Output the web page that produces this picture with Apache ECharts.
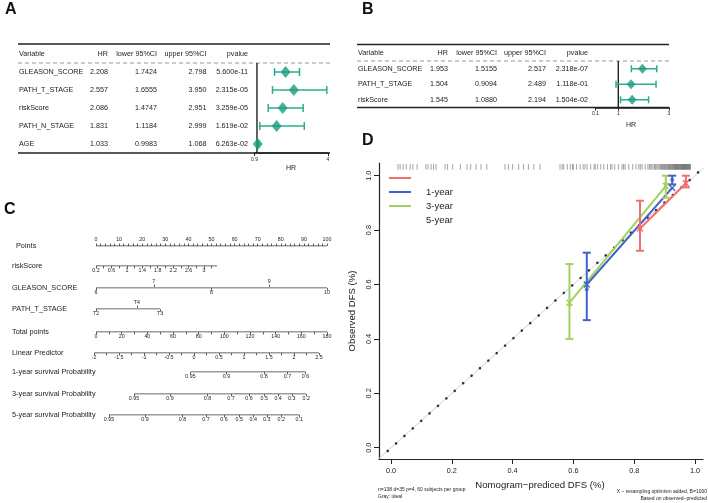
<!DOCTYPE html>
<html><head><meta charset="utf-8">
<script src="https://cdn.jsdelivr.net/npm/echarts@6/dist/echarts.min.js"></script>
<style>html,body{margin:0;padding:0;background:#fff}#c{width:708px;height:503px}</style>
</head><body><div id="c"></div>
<script>
// ================= DATA =================
// Panel A: univariate Cox
const forestAVars = ['GLEASON_SCORE','PATH_T_STAGE','riskScore','PATH_N_STAGE','AGE'];
const forestAHR = [2.208, 2.557, 2.086, 1.831, 1.033];
const forestALo = [1.7424, 1.6555, 1.4747, 1.1184, 0.9983];
const forestAHi = [2.798, 3.950, 2.951, 2.999, 1.068];
const forestAP = ['5.600e-11','2.315e-05','3.259e-05','1.619e-02','6.263e-02'];
const forestATicks = [0.9, 4];
// Panel B: multivariate Cox
const forestBVars = ['GLEASON_SCORE','PATH_T_STAGE','riskScore'];
const forestBHR = [1.953, 1.504, 1.545];
const forestBLo = [1.5155, 0.9094, 1.0880];
const forestBHi = [2.517, 2.489, 2.194];
const forestBP = ['2.318e-07','1.118e-01','1.504e-02'];
const forestBTicks = [0.1, 1, 3];
// Panel C: nomogram scales
const pointsTicks = [0,10,20,30,40,50,60,70,80,90,100];
const riskScoreTicks = [0.2,0.6,1,1.4,1.8,2.2,2.6,3];
const riskScoreMax = 3.34;
const gleasonAbove = [7, 9];
const gleasonBelow = [6, 8, 10];
const tStageLabels = ['T2','T3','T4'];
const tStagePoints = [0, 27.7, 17.7];
const totalPointsTicks = [0,20,40,60,80,100,120,140,160,180];
const lpTicks = [-2,-1.5,-1,-0.5,0,0.5,1,1.5,2,2.5];
const surv1Ticks = [0.95,0.9,0.8,0.7,0.6];
const surv3Ticks = [0.95,0.9,0.8,0.7,0.6,0.5,0.4,0.3,0.2];
const surv5Ticks = [0.95,0.9,0.8,0.7,0.6,0.5,0.4,0.3,0.2,0.1];
const baseSurv1 = 0.9465, baseSurv3 = 0.8434, baseSurv5 = 0.7552;
// Panel D: calibration
const calTicks = [0, 0.2, 0.4, 0.6, 0.8, 1.0];
const cal1Pred = [0.819, 0.970];
const cal1Obs  = [0.809, 0.978];
const cal1Lo   = [0.724, 0.957];
const cal1Hi   = [0.908, 1.000];
const cal1Corr = [0.806, 0.972];
const cal3Pred = [0.644, 0.925];
const cal3Obs  = [0.582, 0.985];
const cal3Lo   = [0.469, 0.968];
const cal3Hi   = [0.717, 1.000];
const cal3Corr = [0.600, 0.955];
const cal5Pred = [0.587, 0.904];
const cal5Obs  = [0.525, 0.970];
const cal5Lo   = [0.400, 0.919];
const cal5Hi   = [0.675, 1.000];
const cal5Corr = [0.533, 0.962];
const rugPred = [0.023,0.030,0.040,0.050,0.063,0.072,0.086,0.115,0.122,0.132,0.140,0.148,0.178,0.186,0.203,0.228,0.250,0.262,0.280,0.296,0.315,
  0.375,0.386,0.400,0.420,0.436,0.452,0.470,0.490,
  0.556,0.563,0.568,0.580,0.590,0.597,0.600,0.610,0.622,0.632,0.638,0.645,0.657,0.668,0.672,0.680,0.690,0.700,0.712,0.722,0.727,
  0.736,0.748,0.760,0.765,0.770,0.782,0.795,0.806,0.815,0.820,0.826,0.836,0.845,0.850,0.853,0.858,0.862,0.867,0.870,0.874,0.878,0.882,0.885,
  0.888,0.890,0.893,0.896,0.898,0.900,0.903,0.905,0.908,0.910,0.912,0.914,0.916,0.918,0.920,0.922,0.924,0.926,0.928,0.930,0.932,0.933,0.935,0.936,0.938,0.939,0.941,0.942,0.944,0.945,0.947,0.948,
  0.950,0.951,0.953,0.954,0.956,0.957,0.959,0.960,0.961,0.962,0.964,0.965,0.967,0.968,0.969,0.970,0.972,0.973,0.975,0.976,0.978,0.979,0.981,0.982,0.984,0.985];

// ================= BUILD =================
const FONT = '"Liberation Sans", Arial, Helvetica, sans-serif';
const INK = '#222';
const TEAL = '#2AAE8E', TEAL_D = '#1A9C80';
const RED = '#F26D6D', BLUE = '#3F63C8', GREEN = '#A3D15C';
const grids = [], xAxes = [], yAxes = [], series = [], graphic = [];
const addGrid = g => (grids.push(g), grids.length - 1);
const addX = a => (xAxes.push(a), xAxes.length - 1);
const addY = a => (yAxes.push(a), yAxes.length - 1);

function forest(cfg) {
  const gi = addGrid({left: cfg.left, top: cfg.top, width: cfg.width, height: cfg.height});
  const n = cfg.vars.length + 1;
  const cats = ['Variable'].concat(cfg.vars);
  const xi = addX({type:'value', gridIndex:gi, min:cfg.min, max:cfg.max, position:'bottom',
    axisLine:{show:true, onZero:false, lineStyle:{color:INK, width:1.6}},
    axisTick:{show:true, customValues:cfg.ticks, length:3, lineStyle:{color:INK, width:1}},
    axisLabel:{show:true, customValues:cfg.ticks, fontSize:5, margin:4, color:INK, formatter:v => String(v)},
    splitLine:{show:false}});
  const yv = addY({type:'value', gridIndex:gi, min:0, max:n, inverse:true, show:false});
  const cols = [
    {x: cfg.colX[0], align:'left',  f: i => i === 0 ? 'Variable' : cfg.vars[i-1]},
    {x: cfg.colX[1], align:'right', f: i => i === 0 ? 'HR' : cfg.hr[i-1].toFixed(3)},
    {x: cfg.colX[2], align:'right', f: i => i === 0 ? 'lower 95%CI' : cfg.lo[i-1].toFixed(4)},
    {x: cfg.colX[3], align:'right', f: i => i === 0 ? 'upper 95%CI' : cfg.hi[i-1].toFixed(3)},
    {x: cfg.colX[4], align:'right', f: i => i === 0 ? 'pvalue' : cfg.p[i-1]}
  ];
  cols.forEach(c => addY({type:'category', gridIndex:gi, data:cats, inverse:true, position:'left',
    axisLine:{show:false}, axisTick:{show:false}, splitLine:{show:false},
    axisLabel:{margin: cfg.left - c.x, align:c.align, fontSize:7.2, color:INK, fontFamily:FONT,
      formatter:(v, i) => c.f(i)}}));
  series.push({type:'line', xAxisIndex:xi, yAxisIndex:yv, data:[[1,1],[1,n]], symbol:'none',
    silent:true, lineStyle:{color:INK, width:1.4}, z:3});
  const cap = cfg.cap;
  series.push({type:'custom', xAxisIndex:xi, yAxisIndex:yv, z:4,
    data: cfg.hr.map((h, i) => [cfg.lo[i], cfg.hi[i], i + 1.5]),
    encode:{x:[0,1], y:2},
    renderItem:(p, api) => {
      const a = api.coord([api.value(0), api.value(2)]);
      const b = api.coord([api.value(1), api.value(2)]);
      const st = {stroke:TEAL, lineWidth:1.5};
      return {type:'group', children:[
        {type:'line', shape:{x1:a[0], y1:a[1], x2:b[0], y2:b[1]}, style:st},
        {type:'line', shape:{x1:a[0], y1:a[1]-cap, x2:a[0], y2:a[1]+cap}, style:st},
        {type:'line', shape:{x1:b[0], y1:b[1]-cap, x2:b[0], y2:b[1]+cap}, style:st}]};
    }});
  series.push({type:'scatter', xAxisIndex:xi, yAxisIndex:yv, z:5, symbol:'diamond',
    symbolSize:cfg.dsize, data: cfg.hr.map((h, i) => [h, i + 1.5]),
    itemStyle:{color:TEAL_D}});
  // table rules
  const L = cfg.ruleL, R = cfg.ruleR, bh = cfg.height / n;
  graphic.push({type:'line', shape:{x1:L, y1:cfg.top - 1, x2:R, y2:cfg.top - 1}, style:{stroke:INK, lineWidth:1.4}});
  graphic.push({type:'line', shape:{x1:L, y1:cfg.top + bh, x2:R, y2:cfg.top + bh}, style:{stroke:'#999', lineWidth:1, lineDash:[4,3]}});
  graphic.push({type:'line', shape:{x1:L, y1:cfg.top + cfg.height, x2:R, y2:cfg.top + cfg.height}, style:{stroke:INK, lineWidth:1.6}});
  graphic.push({type:'text', x:cfg.hrX, y:cfg.hrY, style:{text:'HR', font:'7px ' + FONT, fill:INK, align:'center', verticalAlign:'middle'}});
}

forest({left:254.6, top:45, width:73.4, height:108, min:0.9, max:4, ticks:forestATicks,
  vars:forestAVars, hr:forestAHR, lo:forestALo, hi:forestAHi, p:forestAP,
  colX:[19, 108, 157, 206.5, 248], cap:4, dsize:[10,12], ruleL:18, ruleR:330, hrX:291, hrY:168});
forest({left:595.5, top:45.5, width:73.5, height:62, min:0.1, max:3, ticks:forestBTicks,
  vars:forestBVars, hr:forestBHR, lo:forestBLo, hi:forestBHi, p:forestBP,
  colX:[358, 448, 497, 546, 588], cap:3.5, dsize:[9,10], ruleL:357, ruleR:669, hrX:631, hrY:125});

// ---------- Nomogram ----------
const tickStyle = {color:INK, width:0.7};
function nomo(cfg) {
  const gi = addGrid({left:cfg.left, width:cfg.width, top:cfg.y - 1, height:1});
  const yi = addY({type:'value', gridIndex:gi, min:0, max:1, show:false});
  const base = {type:'value', gridIndex:gi, min:cfg.min, max:cfg.max, splitLine:{show:false},
    axisLine:{show:false}};
  let xi;
  if (cfg.below) {
    xi = addX(Object.assign({}, base, {position:'bottom',
      axisTick:{show:true, customValues:cfg.ticksBelow || cfg.below, length:2.5, lineStyle:tickStyle},
      axisLabel:{show:true, customValues:cfg.below, margin:2.5, fontSize:5.3, color:INK,
        formatter:cfg.fmtBelow || (v => String(v))}}));
  }
  if (cfg.above) {
    const xa = addX(Object.assign({}, base, {position:'top',
      axisTick:{show:true, customValues:cfg.ticksAbove || cfg.above, length:2.5, lineStyle:tickStyle},
      axisLabel:{show:true, customValues:cfg.above, margin:2.5, fontSize:5.3, color:INK,
        formatter:cfg.fmtAbove || (v => String(v))}}));
    if (xi === undefined) xi = xa;
  }
  series.push({type:'line', xAxisIndex:xi, yAxisIndex:yi, data:[[cfg.from,0],[cfg.to,0]],
    symbol:'none', silent:true, lineStyle:{color:INK, width:0.9}});
  graphic.push({type:'text', x:cfg.labelX, y:cfg.y, style:{text:cfg.label, font:'7.3px ' + FONT,
    fill:INK, align:'left', verticalAlign:'middle'}});
}
const PL = 96, PW = 231;            // points scale span
const LPL = 94, LPW = 225;          // linear predictor span
const minor = (a, b, s) => { const r = []; for (let v = a; v <= b + 1e-9; v += s) r.push(+v.toFixed(4)); return r; };

nomo({label:'Points', labelX:16, y:246, left:PL, width:PW, min:0, max:100, from:0, to:100,
  above:pointsTicks, ticksAbove:minor(0,100,2)});
nomo({label:'riskScore', labelX:12, y:266, left:PL, width:PW, min:0.2, max:0.2 + PW / 38.57,
  from:0.2, to:riskScoreMax, below:riskScoreTicks, ticksBelow:minor(0.2,3.2,0.2)});
nomo({label:'GLEASON_SCORE', labelX:12, y:288, left:PL, width:PW, min:6, max:10, from:6, to:10,
  above:gleasonAbove, below:gleasonBelow});
const tFmt = v => tStageLabels[tStagePoints.findIndex(p => Math.abs(p - v) < 1e-6)];
nomo({label:'PATH_T_STAGE', labelX:12, y:309, left:PL, width:PW, min:0, max:100, from:0, to:tStagePoints[1],
  above:[tStagePoints[2]], below:[tStagePoints[0], tStagePoints[1]], fmtAbove:tFmt, fmtBelow:tFmt});
nomo({label:'Total points', labelX:12, y:332, left:PL, width:PW, min:0, max:180, from:0, to:180,
  below:totalPointsTicks, ticksBelow:minor(0,180,10)});
nomo({label:'Linear Predictor', labelX:12, y:353, left:LPL, width:LPW, min:-2, max:2.5, from:-2, to:2.5,
  below:lpTicks, ticksBelow:minor(-2,2.5,0.25)});
function survRow(label, y, ticks, s0) {
  const lp = ticks.map(s => Math.log(Math.log(s) / Math.log(s0)));
  const fmt = v => { let k = 0, d = 1e9; lp.forEach((q, i) => { if (Math.abs(q - v) < d) { d = Math.abs(q - v); k = i; } }); return String(ticks[k]); };
  nomo({label, labelX:12, y, left:LPL, width:LPW, min:-2, max:2.5, from:lp[0], to:lp[lp.length-1],
    below:lp, fmtBelow:fmt});
}
survRow('1-year survival Probability', 372, surv1Ticks, baseSurv1);
survRow('3-year survival Probability', 394, surv3Ticks, baseSurv3);
survRow('5-year survival Probability', 415, surv5Ticks, baseSurv5);

// ---------- Calibration ----------
const cg = addGrid({left:379, top:163, width:324, height:296});
const cx = addX({type:'value', gridIndex:cg, min:-0.0395, max:1.0263, position:'bottom',
  axisLine:{show:true, onZero:false, lineStyle:{color:INK, width:1.2}},
  axisTick:{show:true, customValues:calTicks, length:5, lineStyle:{color:INK, width:1}},
  axisLabel:{show:true, customValues:calTicks, fontSize:7.3, margin:8.5, color:INK, formatter:v => v.toFixed(1)},
  splitLine:{show:false}});
const cy = addY({type:'value', gridIndex:cg, min:-0.0415, max:1.0467, position:'left',
  axisLine:{show:true, onZero:false, lineStyle:{color:INK, width:1.2}},
  axisTick:{show:true, customValues:calTicks, length:5, lineStyle:{color:INK, width:1}},
  axisLabel:{show:true, customValues:calTicks, fontSize:7.3, margin:10, rotate:90, color:INK,
    formatter:v => v.toFixed(1), verticalAlign:'middle', align:'center'},
  splitLine:{show:false}});
series.push({type:'line', xAxisIndex:cx, yAxisIndex:cy, data:[[-0.04,-0.04],[1.03,1.03]], symbol:'none',
  silent:true, lineStyle:{color:'#cfcfcf', width:1}, z:1, clip:true});
series.push({type:'line', xAxisIndex:cx, yAxisIndex:cy, data:[[-0.011,-0.012],[1.028,1.03]], symbol:'none',
  silent:true, lineStyle:{color:'#1E3A3A', width:2.6, type:[0.01, 11.26], cap:'round'}, z:2});
series.push({type:'custom', xAxisIndex:cx, yAxisIndex:cy, silent:true, z:2,
  data: rugPred.map(v => [v]), encode:{x:0},
  renderItem:(p, api) => {
    const a = api.coord([api.value(0), 1.043]);
    const b = api.coord([api.value(0), 1.022]);
    return {type:'line', shape:{x1:a[0], y1:a[1], x2:b[0], y2:b[1]}, style:{stroke:'#666', lineWidth:0.6}};
  }});
function calGroup(color, pred, obs, lo, hi, corr) {
  series.push({type:'line', xAxisIndex:cx, yAxisIndex:cy, data:pred.map((x, i) => [x, corr[i]]),
    symbol:'none', silent:true, lineStyle:{color, width:2}, z:5});
  series.push({type:'custom', xAxisIndex:cx, yAxisIndex:cy, silent:true, z:6,
    data: pred.map((x, i) => [x, lo[i], hi[i]]), encode:{x:0, y:[1,2]},
    renderItem:(p, api) => {
      const a = api.coord([api.value(0), api.value(1)]);
      const b = api.coord([api.value(0), api.value(2)]);
      const st = {stroke:color, lineWidth:2};
      return {type:'group', children:[
        {type:'line', shape:{x1:a[0], y1:a[1], x2:b[0], y2:b[1]}, style:st},
        {type:'line', shape:{x1:a[0]-4, y1:a[1], x2:a[0]+4, y2:a[1]}, style:st},
        {type:'line', shape:{x1:b[0]-4, y1:b[1], x2:b[0]+4, y2:b[1]}, style:st}]};
    }});
  series.push({type:'scatter', xAxisIndex:cx, yAxisIndex:cy, silent:true, z:7, symbol:'circle', symbolSize:4,
    data: pred.map((x, i) => [x, obs[i]]), itemStyle:{color}});
  series.push({type:'custom', xAxisIndex:cx, yAxisIndex:cy, silent:true, z:7,
    data: pred.map((x, i) => [x, corr[i]]), encode:{x:0, y:1},
    renderItem:(p, api) => {
      const c = api.coord([api.value(0), api.value(1)]);
      const st = {stroke:color, lineWidth:1.3}, r = 3;
      return {type:'group', children:[
        {type:'line', shape:{x1:c[0]-r, y1:c[1]-r, x2:c[0]+r, y2:c[1]+r}, style:st},
        {type:'line', shape:{x1:c[0]-r, y1:c[1]+r, x2:c[0]+r, y2:c[1]-r}, style:st}]};
    }});
}
calGroup(RED, cal1Pred, cal1Obs, cal1Lo, cal1Hi, cal1Corr);
calGroup(GREEN, cal5Pred, cal5Obs, cal5Lo, cal5Hi, cal5Corr);
calGroup(BLUE, cal3Pred, cal3Obs, cal3Lo, cal3Hi, cal3Corr);

// legend (as in the original figure: labels shifted one row)
[[RED,178],[BLUE,192],[GREEN,206]].forEach(([c, y]) =>
  graphic.push({type:'line', shape:{x1:389, y1:y, x2:411, y2:y}, style:{stroke:c, lineWidth:2}}));
[['1-year',192],['3-year',206],['5-year',220]].forEach(([t, y]) =>
  graphic.push({type:'text', x:426, y, style:{text:t, font:'9.5px ' + FONT, fill:INK, align:'left', verticalAlign:'middle'}}));

// titles & notes
graphic.push({type:'text', x:540, y:485, style:{text:'Nomogram\u2212prediced DFS (%)', font:'9.6px ' + FONT, fill:INK, align:'center', verticalAlign:'middle'}});
graphic.push({type:'text', x:352, y:311, rotation:Math.PI/2, style:{text:'Observed DFS (%)', font:'9.6px ' + FONT, fill:INK, align:'center', verticalAlign:'middle'}});
graphic.push({type:'text', x:378, y:490, style:{text:'n=138 d=35 p=4, 60 subjects per group', font:'5px ' + FONT, fill:INK, align:'left', verticalAlign:'middle'}});
graphic.push({type:'text', x:378, y:497, style:{text:'Gray: ideal', font:'5px ' + FONT, fill:INK, align:'left', verticalAlign:'middle'}});
graphic.push({type:'text', x:707, y:492, style:{text:'X \u2212 resampling optimism added, B=1000', font:'5px ' + FONT, fill:INK, align:'right', verticalAlign:'middle'}});
graphic.push({type:'text', x:707, y:499, style:{text:'Based on observed\u2212predicted', font:'5px ' + FONT, fill:INK, align:'right', verticalAlign:'middle'}});

// panel letters
[['A',5,10],['B',362,10],['C',4,210],['D',362,141]].forEach(([t, x, y]) =>
  graphic.push({type:'text', x, y, style:{text:t, font:'bold 16px ' + FONT, fill:'#111', align:'left', verticalAlign:'middle'}}));

const chart = echarts.init(document.getElementById('c'), null, {renderer:'canvas', width:708, height:503});
chart.setOption({animation:false, backgroundColor:'#fff', textStyle:{fontFamily:FONT},
  grid:grids, xAxis:xAxes, yAxis:yAxes, series, graphic});
</script></body></html>
